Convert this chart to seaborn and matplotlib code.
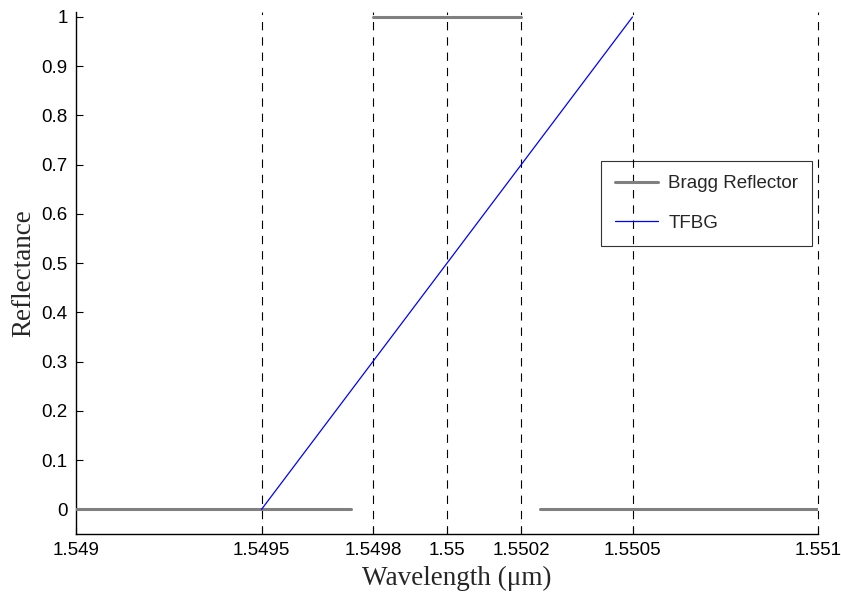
import matplotlib
matplotlib.use("Agg")
import matplotlib.pyplot as plt
import seaborn as sns
import pandas as pd
from matplotlib.lines import Line2D

# Data
bragg_x = [1.5490, 1.54974, None, 1.5498, 1.5502, None, 1.55025, 1.5510]
bragg_y = [0, 0, None, 1, 1, None, 0, 0]
bragg_seg = [0, 0, None, 1, 1, None, 2, 2]
tfbg_x = [1.5495, 1.5505]
tfbg_y = [0, 1]
vlines_x = [1.5495, 1.5498, 1.5500, 1.5502, 1.5505, 1.5510]
xtick_vals = [1.549, 1.5495, 1.5498, 1.55, 1.5502, 1.5505, 1.551]
xtick_labels = ["1.549", "1.5495", "1.5498", "1.55", "1.5502", "1.5505", "1.551"]
ytick_vals = [0, 0.1, 0.2, 0.3, 0.4, 0.5, 0.6, 0.7, 0.8, 0.9, 1.0]
ytick_labels = ["0", "0.1", "0.2", "0.3", "0.4", "0.5", "0.6", "0.7", "0.8", "0.9", "1"]

sns.set_style("ticks")
plt.rcParams["font.family"] = ["Liberation Sans", "DejaVu Sans"]
plt.rcParams["lines.scale_dashes"] = False

fig = plt.figure(figsize=(8.41, 5.92), dpi=100)
ax = fig.add_axes([0.0904, 0.098, 0.9727 - 0.0904, 0.9797 - 0.098])

bragg = pd.DataFrame({"x": bragg_x, "y": bragg_y, "seg": bragg_seg}).dropna()
for s, g in bragg.groupby("seg"):
    sns.lineplot(data=g, x="x", y="y", ax=ax, color="#808080", linewidth=2.2,
                 sort=False, estimator=None, legend=False, zorder=3)
tfbg = pd.DataFrame({"x": tfbg_x, "y": tfbg_y})
sns.lineplot(data=tfbg, x="x", y="y", ax=ax, color="#0000ff", linewidth=0.9,
             sort=False, estimator=None, legend=False, zorder=3)

for xv in vlines_x:
    ax.axvline(xv, color="black", linewidth=0.8, linestyle=(0, (6, 5)),
               zorder=1, clip_on=False)

ax.set_xlim(1.549, 1.551)
ax.set_ylim(-0.05, 1.01)
ax.set_xticks(xtick_vals)
ax.set_xticklabels(xtick_labels)
ax.set_yticks(ytick_vals)
ax.set_yticklabels(ytick_labels)
ax.tick_params(direction="in", length=5, width=0.8, labelsize=13.5, pad=6, colors="black")

for sp in ["top", "right"]:
    ax.spines[sp].set_visible(False)
for sp in ["left", "bottom"]:
    ax.spines[sp].set_linewidth(1.0)
    ax.spines[sp].set_color("#000000")

ax.set_xlabel("Wavelength (μm)", family=["Liberation Serif", "DejaVu Serif"], fontsize=19.5)
ax.set_ylabel("Reflectance", family=["Liberation Serif", "DejaVu Serif"], fontsize=19.5, labelpad=4)
ax.xaxis.set_label_coords(0.513, -0.062, transform=ax.transAxes)
ax.xaxis.label.set_va("top")

handles = [Line2D([0], [0], color="#808080", linewidth=2.2),
           Line2D([0], [0], color="#0000ff", linewidth=0.9)]
leg = ax.legend(handles, ["Bragg Reflector", "TFBG"], loc="upper left",
                bbox_to_anchor=(0.7075, 0.7146), borderaxespad=0, fontsize=13.5,
                frameon=True, fancybox=False, handlelength=2.3, handletextpad=0.53,
                labelspacing=1.2, borderpad=0.75)
fr = leg.get_frame()
fr.set_facecolor("none")
fr.set_edgecolor("black")
fr.set_linewidth(0.8)

fig.savefig("out.png", dpi=100)
